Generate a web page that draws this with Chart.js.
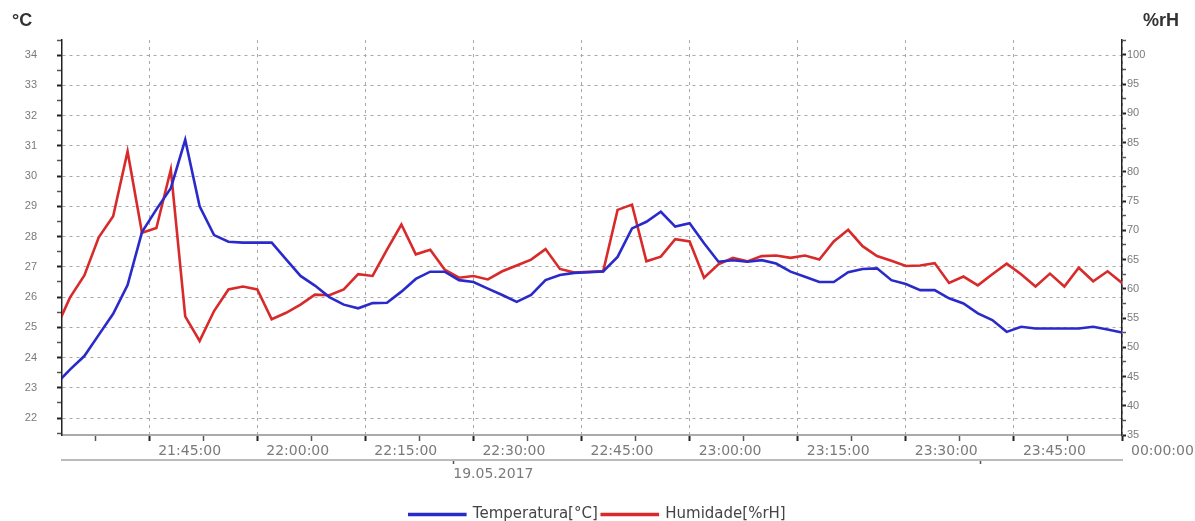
<!DOCTYPE html>
<html>
<head>
<meta charset="utf-8">
<script src="https://cdn.jsdelivr.net/npm/chart.js@4.4.1/dist/chart.umd.min.js"></script>
<style>
  html, body { margin: 0; padding: 0; background: #fff; }
  #wrap { width: 1195px; height: 521px; }
</style>
</head>
<body>
<div id="wrap"><canvas id="logger"></canvas></div>
<script>
// readings every 2 minutes, 19.05.2017
const times = [
  "21:32", "21:34", "21:36", "21:38", "21:40", "21:42", "21:44", "21:46", "21:48", "21:50",
  "21:52", "21:54", "21:56", "21:58", "22:00", "22:02", "22:04", "22:06", "22:08", "22:10",
  "22:12", "22:14", "22:16", "22:18", "22:20", "22:22", "22:24", "22:26", "22:28", "22:30",
  "22:32", "22:34", "22:36", "22:38", "22:40", "22:42", "22:44", "22:46", "22:48", "22:50",
  "22:52", "22:54", "22:56", "22:58", "23:00", "23:02", "23:04", "23:06", "23:08", "23:10",
  "23:12", "23:14", "23:16", "23:18", "23:20", "23:22", "23:24", "23:26", "23:28", "23:30",
  "23:32", "23:34", "23:36", "23:38", "23:40", "23:42", "23:44", "23:46", "23:48", "23:50",
  "23:52", "23:54", "23:56", "23:58", "00:00"
];

const temperature = [
  23.1, 23.6, 24.05, 24.75, 25.45, 26.4, 28.15, 28.9, 29.6, 31.2,
  29.0, 28.05, 27.83, 27.8, 27.8, 27.8, 27.25, 26.7, 26.38, 26.0,
  25.75, 25.63, 25.8, 25.81, 26.18, 26.6, 26.84, 26.84, 26.56, 26.5,
  26.28, 26.07, 25.84, 26.07, 26.56, 26.73, 26.8, 26.82, 26.85, 27.33,
  28.27, 28.49, 28.82, 28.33, 28.44, 27.78, 27.17, 27.22, 27.17, 27.22,
  27.11, 26.84, 26.67, 26.5, 26.5, 26.82, 26.93, 26.95, 26.56, 26.43,
  26.23, 26.23, 25.96, 25.79, 25.46, 25.24, 24.85, 25.02, 24.96, 24.96,
  24.96, 24.96, 25.02, 24.93, 24.83
];

const humidity = [
  53.0, 58.5, 62.3, 68.8, 72.4, 83.5, 69.6, 70.4, 80.4, 55.3,
  51.1, 56.2, 59.9, 60.4, 59.9, 54.8, 55.9, 57.3, 59.0, 58.9,
  59.9, 62.5, 62.2, 66.7, 71.0, 65.9, 66.7, 63.3, 61.9, 62.2,
  61.6, 63.0, 64.0, 65.0, 66.8, 63.4, 62.8, 62.9, 63.0, 73.5,
  74.4, 64.7, 65.5, 68.5, 68.1, 61.9, 64.2, 65.3, 64.7, 65.6,
  65.7, 65.3, 65.7, 65.0, 68.1, 70.1, 67.3, 65.6, 64.8, 63.9,
  64.0, 64.4, 61.0, 62.1, 60.6, 62.5, 64.3, 62.5, 60.4, 62.6,
  60.4, 63.6, 61.3, 63.0, 61.0
];

const tempTicks = [22, 23, 24, 25, 26, 27, 28, 29, 30, 31, 32, 33, 34];
const humTicks = [35, 40, 45, 50, 55, 60, 65, 70, 75, 80, 85, 90, 95, 100];
const timeTicks = ["21:45", "22:00", "22:15", "22:30", "22:45", "23:00", "23:15", "23:30", "23:45", "00:00"];
const dateLabel = "19.05.2017";

// minutes after 21:00, so midnight is 180
function toMin(s) {
  let h = parseInt(s.slice(0, 2), 10);
  const m = parseInt(s.slice(3, 5), 10);
  if (h < 12) h += 24;
  return (h - 21) * 60 + m;
}
function fmt(v) {
  const total = Math.round(v);
  const h = (21 + Math.floor(total / 60)) % 24;
  const m = total % 60;
  return String(h).padStart(2, "0") + ":" + String(m).padStart(2, "0") + ":00";
}

const xMin = toMin("21:33") - 0.1;
const xMax = toMin("00:00");

function buildTicks(major, min, max) {
  const half = (major[1] - major[0]) / 2;
  const out = [];
  let v = major[0];
  while (v - half >= min) v -= half;
  for (; v <= max + 1e-6; v += half) {
    const isMajor = major.some(m => Math.abs(m - v) < 1e-6);
    out.push({ value: v, major: isMajor });
  }
  return out;
}

const tempData = times.map((t, i) => ({ x: toMin(t), y: temperature[i] }));
const humData = times.map((t, i) => ({ x: toMin(t), y: humidity[i] }));

const labelColor = "#7a7a7a";
const tickMarkColor = c => (c.tick && c.tick.major ? "#222" : "#555");
const tickMarkWidth = c => (c.tick && c.tick.major ? 2 : 1.5);

const unitLabels = {
  id: "unitLabels",
  afterDraw(chart) {
    const ctx = chart.ctx;
    ctx.save();
    ctx.font = 'bold 18px "Liberation Sans", Arial, sans-serif';
    ctx.fillStyle = "#333";
    ctx.textBaseline = "middle";
    ctx.fillText("°C", 12, 21);
    ctx.fillText("%rH", 1143, 21);
    ctx.restore();
  }
};

const ctx = document.getElementById("logger").getContext("2d");
new Chart(ctx, {
  type: "line",
  data: {
    datasets: [
      {
        label: "Temperatura[°C]",
        data: tempData,
        yAxisID: "y",
        borderColor: "#2a2acb",
        backgroundColor: "#2a2acb",
        borderWidth: 2.6,
        pointRadius: 0,
        tension: 0
      },
      {
        label: "Humidade[%rH]",
        data: humData,
        yAxisID: "y1",
        borderColor: "#d82a2a",
        backgroundColor: "#d82a2a",
        borderWidth: 2.6,
        pointRadius: 0,
        tension: 0
      }
    ]
  },
  options: {
    responsive: true,
    maintainAspectRatio: false,
    animation: false,
    layout: { padding: { top: 40, left: 0, right: 0, bottom: -11 } },
    plugins: {
      tooltip: { enabled: false },
      legend: {
        position: "bottom",
        labels: {
          boxWidth: 56,
          boxHeight: 1,
          padding: 4,
          color: "#444",
          font: { family: '"DejaVu Sans", sans-serif', size: 15 }
        }
      }
    },
    scales: {
      x: {
        type: "linear",
        position: "bottom",
        weight: 0,
        min: xMin,
        max: xMax,
        afterBuildTicks: s => { s.ticks = buildTicks(timeTicks.map(toMin), xMin, xMax); },
        afterFit: s => { s.height = 25; },
        ticks: {
          autoSkip: false,
          maxRotation: 0,
          align: "start",
          labelOffset: 9,
          padding: 2,
          color: labelColor,
          font: { family: '"DejaVu Sans", sans-serif', size: 14 },
          callback: function (v, i, ticks) { return ticks[i].major ? fmt(v) : ""; }
        },
        grid: {
          color: c => (c.tick && c.tick.major ? "#a8a8a8" : "rgba(0,0,0,0)"),
          lineWidth: 1,
          tickLength: 6,
          tickColor: tickMarkColor,
          tickWidth: tickMarkWidth
        },
        border: { color: "#aaa", width: 2, dash: [3, 4] }
      },
      x2: {
        type: "linear",
        position: "bottom",
        weight: 1,
        min: xMin,
        max: xMax,
        afterBuildTicks: s => { s.ticks = [{ value: 87.2, major: true }, { value: 160.4, major: false }]; },
        afterFit: s => { s.height = 43; },
        ticks: {
          autoSkip: false,
          maxRotation: 0,
          align: "start",
          padding: 2,
          color: labelColor,
          font: { family: '"DejaVu Sans", sans-serif', size: 14 },
          callback: function (v, i, ticks) { return ticks[i].major ? dateLabel : ""; }
        },
        grid: {
          drawOnChartArea: false,
          tickLength: 4,
          tickColor: "#555",
          tickWidth: 1.5
        },
        border: { color: "#bbb", width: 2 }
      },
      y: {
        type: "linear",
        position: "left",
        min: 21.44,
        max: 34.5,
        afterBuildTicks: s => { s.ticks = buildTicks(tempTicks, 21.44, 34.5); },
        afterFit: s => { s.width = 62; },
        ticks: {
          autoSkip: false,
          padding: 20,
          color: labelColor,
          font: { family: '"Liberation Sans", Arial, sans-serif', size: 11 },
          callback: function (v, i, ticks) { return ticks[i].major ? String(v) : ""; }
        },
        grid: {
          color: c => (c.tick && c.tick.major ? "#a8a8a8" : "rgba(0,0,0,0)"),
          lineWidth: 1,
          tickLength: 5,
          tickColor: tickMarkColor,
          tickWidth: tickMarkWidth
        },
        border: { color: "#222", width: 1.5, dash: [3, 4] }
      },
      y1: {
        type: "linear",
        position: "right",
        min: 35,
        max: 102.56,
        afterBuildTicks: s => { s.ticks = buildTicks(humTicks, 35, 102.56); },
        afterFit: s => { s.width = 73; },
        ticks: {
          autoSkip: false,
          padding: 1,
          color: labelColor,
          font: { family: '"Liberation Sans", Arial, sans-serif', size: 11 },
          callback: function (v, i, ticks) { return ticks[i].major ? String(Math.round(v)) : ""; }
        },
        grid: {
          drawOnChartArea: false,
          tickLength: 4,
          tickColor: tickMarkColor,
          tickWidth: tickMarkWidth
        },
        border: { color: "#222", width: 1.5 }
      }
    }
  },
  plugins: [unitLabels]
});
</script>
</body>
</html>
